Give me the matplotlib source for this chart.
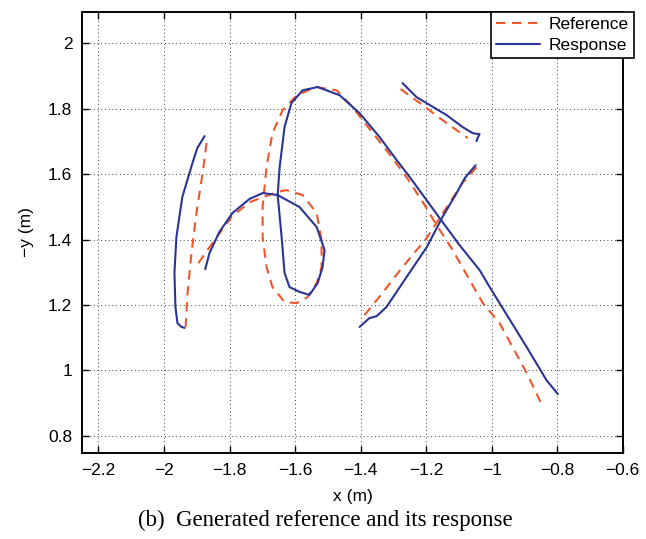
import matplotlib
matplotlib.use('Agg')
import matplotlib.pyplot as plt

plt.rcParams['font.family'] = ['Liberation Sans', 'DejaVu Sans']
plt.rcParams['axes.unicode_minus'] = True

# ── stroke data (x, y in metres) ───────────────────────────────
# stroke 1: left vertical
ref1_x = [-1.870, -1.882, -1.901, -1.916, -1.928, -1.934]
ref1_y = [1.695, 1.603, 1.481, 1.359, 1.237, 1.133]
res1_x = [-1.876, -1.898, -1.913, -1.944, -1.962, -1.968, -1.965, -1.959, -1.948, -1.937]
res1_y = [1.716, 1.680, 1.634, 1.530, 1.408, 1.298, 1.194, 1.145, 1.134, 1.130]

# stroke 2: arch, loop, then long diagonal
ref2_x = [-1.895, -1.861, -1.794, -1.739, -1.656, -1.626, -1.577, -1.534,
          -1.519, -1.519, -1.534, -1.562, -1.595, -1.632, -1.669, -1.687,
          -1.699, -1.699, -1.687, -1.669, -1.638, -1.595, -1.534, -1.473,
          -1.427, -1.394, -1.321, -1.260, -1.208, -1.168, -1.119, -1.067,
          -1.027, -0.976, -0.893, -0.844]
ref2_y = [1.328, 1.377, 1.469, 1.514, 1.545, 1.551, 1.536, 1.481,
          1.398, 1.316, 1.267, 1.224, 1.206, 1.209, 1.255, 1.316,
          1.408, 1.499, 1.621, 1.725, 1.795, 1.841, 1.866, 1.856,
          1.808, 1.765, 1.673, 1.591, 1.511, 1.444, 1.368, 1.276,
          1.206, 1.145, 0.992, 0.889]
res2_x = [-1.874, -1.861, -1.831, -1.791, -1.739, -1.699, -1.653, -1.586,
          -1.534, -1.510, -1.516, -1.531, -1.556, -1.586, -1.617, -1.632,
          -1.641, -1.653, -1.647, -1.632, -1.611, -1.577, -1.531, -1.464,
          -1.403, -1.342, -1.290, -1.250, -1.159, -1.098, -1.037, -1.006,
          -0.976, -0.894, -0.833, -0.798]
res2_y = [1.310, 1.359, 1.423, 1.481, 1.524, 1.542, 1.536, 1.499,
          1.438, 1.368, 1.316, 1.267, 1.231, 1.240, 1.255, 1.298,
          1.408, 1.536, 1.621, 1.744, 1.817, 1.856, 1.866, 1.841,
          1.786, 1.713, 1.643, 1.591, 1.466, 1.383, 1.307, 1.255,
          1.206, 1.073, 0.971, 0.928]

# stroke 3: rising diagonal
ref3_x = [-1.388, -1.333, -1.272, -1.198, -1.137, -1.089, -1.046]
ref3_y = [1.169, 1.237, 1.316, 1.405, 1.499, 1.573, 1.621]
res3_x = [-1.403, -1.373, -1.351, -1.321, -1.260, -1.198, -1.150, -1.107,
          -1.082, -1.049]
res3_y = [1.133, 1.160, 1.166, 1.194, 1.285, 1.377, 1.469, 1.542,
          1.588, 1.627]

# stroke 4: short top-right dash
ref4_x = [-1.278, -1.211, -1.150, -1.073]
ref4_y = [1.860, 1.811, 1.765, 1.710]
res4_x = [-1.272, -1.229, -1.189, -1.137, -1.089, -1.058, -1.037, -1.043, -1.046]
res4_y = [1.878, 1.835, 1.811, 1.780, 1.744, 1.725, 1.722, 1.710, 1.701]

ref_strokes = [(ref1_x, ref1_y), (ref2_x, ref2_y), (ref3_x, ref3_y), (ref4_x, ref4_y)]
res_strokes = [(res1_x, res1_y), (res2_x, res2_y), (res3_x, res3_y), (res4_x, res4_y)]

xticks = [-2.2, -2.0, -1.8, -1.6, -1.4, -1.2, -1.0, -0.8, -0.6]
xtick_labels = ['−2.2', '−2', '−1.8', '−1.6', '−1.4', '−1.2', '−1', '−0.8', '−0.6']
yticks = [0.8, 1.0, 1.2, 1.4, 1.6, 1.8, 2.0]
ytick_labels = ['0.8', '1', '1.2', '1.4', '1.6', '1.8', '2']

RED = '#f0562a'
BLUE = '#2a3593'

fig = plt.figure(figsize=(6.46, 5.39), dpi=100)
ax = fig.add_axes([0.127, 0.1596, 0.837, 0.818])

for i, (xs, ys) in enumerate(ref_strokes):
    ax.plot(xs, ys, color=RED, lw=1.5, ls=(0, (4.5, 3.2)),
            solid_joinstyle='round', dash_joinstyle='round',
            label='Reference' if i == 0 else None, zorder=3)
for i, (xs, ys) in enumerate(res_strokes):
    ax.plot(xs, ys, color=BLUE, lw=1.5, solid_joinstyle='round',
            solid_capstyle='round',
            label='Response' if i == 0 else None, zorder=4)

ax.set_xlim(-2.25, -0.6)
ax.set_ylim(0.748, 2.095)
ax.set_xticks(xticks)
ax.set_xticklabels(xtick_labels)
ax.set_yticks(yticks)
ax.set_yticklabels(ytick_labels)
ax.tick_params(direction='in', top=True, right=True, length=5, width=1,
               labelsize=12.5, pad=7)
ax.grid(True, color='black', ls=(0, (1, 3.5)), lw=0.6)
for sp in ax.spines.values():
    sp.set_linewidth(1.4)

ax.set_xlabel('x (m)', fontsize=12.5, labelpad=8)
ax.set_ylabel('−y (m)', fontsize=12.5, labelpad=10)

leg = ax.legend(loc='upper right', bbox_to_anchor=(1.02, 1.0),
                borderaxespad=0, fontsize=12.5, handlelength=2.5,
                labelspacing=0.3, fancybox=False, framealpha=1,
                edgecolor='black', borderpad=0.3, handletextpad=0.5)
leg.get_frame().set_linewidth(1.2)

fig.text(0.503, 0.035, '(b)  Generated reference and its response',
         ha='center', va='center', fontsize=16.5,
         family=['Liberation Serif', 'DejaVu Serif'])

fig.savefig('out.png', dpi=100)
